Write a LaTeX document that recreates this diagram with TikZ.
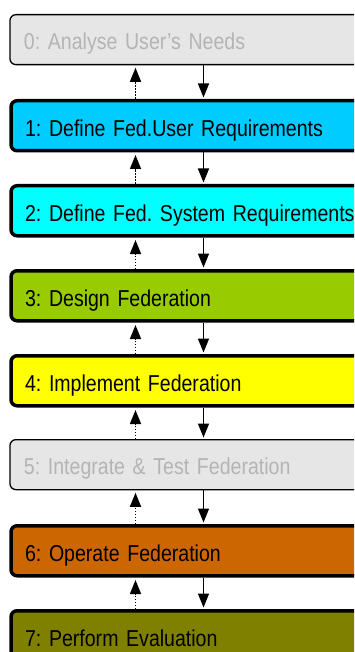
\documentclass[tikz,border=0pt]{standalone}
\usepackage{fontspec}
\setmainfont{Liberation Sans}[FakeStretch=0.85]
\usetikzlibrary{arrows.meta}
\definecolor{boxgray}{HTML}{E6E6E6}
\definecolor{textgray}{HTML}{B4B4B4}
\definecolor{cA}{HTML}{00CCFF}
\definecolor{cB}{HTML}{00FFFF}
\definecolor{cC}{HTML}{99CC00}
\definecolor{cD}{HTML}{FFFF00}
\definecolor{cF}{HTML}{CC6600}
\definecolor{cG}{HTML}{808000}
\tikzset{
  phase/.style={draw=black, rectangle, rounded corners=6pt, anchor=north west,
    minimum width=380pt, minimum height=50pt, text width=352pt, align=left,
    inner xsep=14pt, inner ysep=0pt, text height=24pt, text depth=3.4pt,
    font=\fontsize{23pt}{27pt}\selectfont\frenchspacing},
  active/.style={phase, line width=3.5pt, text=black},
  inactive/.style={phase, line width=1.3pt, fill=boxgray, text=textgray},
  downarr/.style={line width=1.5pt, -{Triangle[length=14pt,width=11pt]}, shorten >=1.5pt},
  uparr/.style={line width=1.5pt, dash pattern=on 1.5pt off 1.5pt,
    -{Triangle[length=14pt,width=11pt]}, shorten >=2.5pt}
}
\begin{document}
\begin{tikzpicture}[x=1pt, y=-1pt]
\useasboundingbox (0,0) rectangle (354,652);
\clip (0,0) rectangle (354,652);
\fill[white] (0,0) rectangle (354,652);
\node[inactive] (b0) at (9.3,14) {0: Analyse User’s Needs};
\node[active, fill=cA] (b1) at (9.3,99) {1: Define Fed.User Requirements};
\node[active, fill=cB] (b2) at (9.3,184) {2: Define Fed. System Requirements};
\node[active, fill=cC] (b3) at (9.3,269) {3: Design Federation};
\node[active, fill=cD] (b4) at (9.3,354) {4: Implement Federation};
\node[inactive] (b5) at (9.3,439) {5: Integrate \& Test Federation};
\node[active, fill=cF] (b6) at (9.3,524) {6: Operate Federation};
\node[active, fill=cG] (b7) at (9.3,609) {7: Perform Evaluation};
\foreach \a/\b in {b0/b1, b1/b2, b2/b3, b3/b4, b4/b5, b5/b6, b6/b7} {
  \draw[downarr] ([xshift=194.2pt]\a.south west) -- ([xshift=194.2pt]\b.north west);
  \draw[uparr] ([xshift=126.2pt]\b.north west) -- ([xshift=126.2pt]\a.south west);
}
\end{tikzpicture}
\end{document}
